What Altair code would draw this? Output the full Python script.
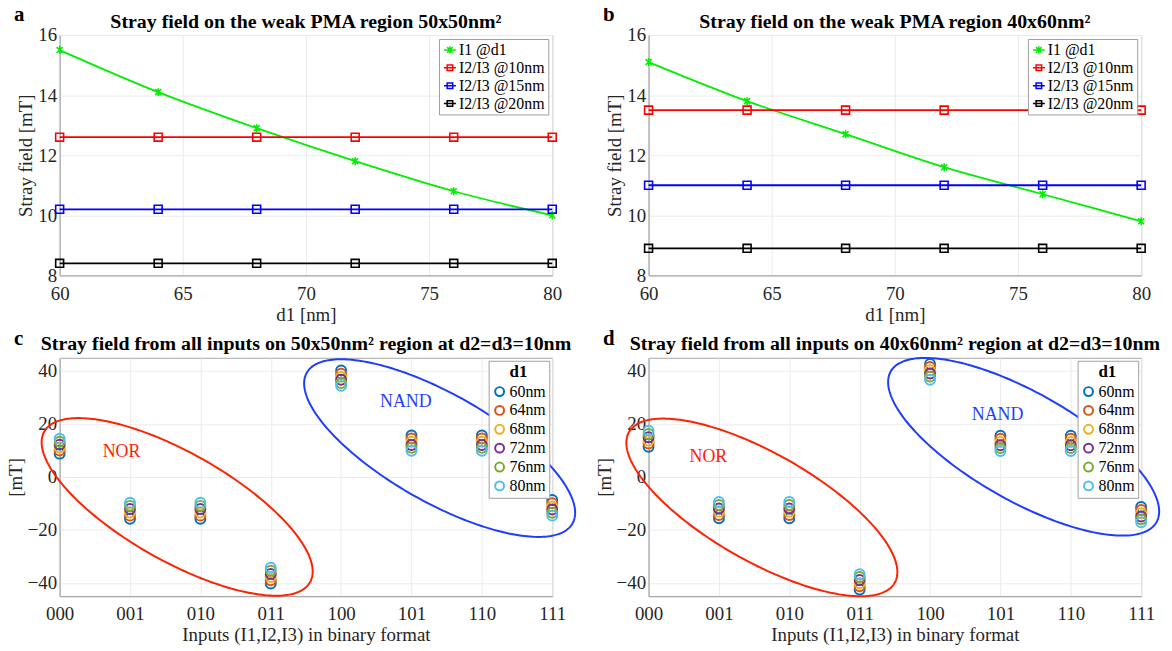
import numpy as np
import pandas as pd
import altair as alt

FONT = "Liberation Serif"

# ---------------- data ----------------
d1_values = [60, 64, 68, 72, 76, 80]
series_names = ["I1 @d1", "I2/I3 @10nm", "I2/I3 @15nm", "I2/I3 @20nm"]
series_colors = ["#00ee00", "#ff0000", "#0000ff", "#000000"]

# panel a (50x50nm2)
a_I1 = [15.5, 14.1, 12.9, 11.8, 10.8, 10.0]
a_10 = [12.6, 12.6, 12.6, 12.6, 12.6, 12.6]
a_15 = [10.2, 10.2, 10.2, 10.2, 10.2, 10.2]
a_20 = [8.4, 8.4, 8.4, 8.4, 8.4, 8.4]
# panel b (40x60nm2)
b_I1 = [15.1, 13.8, 12.7, 11.6, 10.7, 9.8]
b_10 = [13.5, 13.5, 13.5, 13.5, 13.5, 13.5]
b_15 = [11.0, 11.0, 11.0, 11.0, 11.0, 11.0]
b_20 = [8.9, 8.9, 8.9, 8.9, 8.9, 8.9]

inputs = ["000", "001", "010", "011", "100", "101", "110", "111"]
d1_labels = ["60nm", "64nm", "68nm", "72nm", "76nm", "80nm"]
d1_colors = ["#0072BD", "#D95319", "#EDB120", "#7E2F8E", "#77AC30", "#4DBEEE"]

# panel c (50x50nm2), one list per d1
c_60 = [8.8, -15.8, -15.8, -40.2, 40.2, 15.7, 15.7, -8.7]
c_64 = [10.0, -14.6, -14.6, -39.0, 39.0, 14.5, 14.5, -9.9]
c_68 = [11.1, -13.4, -13.4, -37.8, 37.8, 13.3, 13.3, -11.1]
c_72 = [12.2, -12.1, -12.1, -36.6, 36.7, 12.1, 12.1, -12.3]
c_76 = [13.3, -10.9, -10.9, -35.4, 35.5, 11.0, 11.0, -13.5]
c_80 = [14.4, -9.7, -9.7, -34.3, 34.4, 9.9, 9.9, -14.6]
# panel d (40x60nm2)
d_60 = [11.4, -15.6, -15.6, -42.5, 42.7, 15.6, 15.6, -11.3]
d_64 = [12.6, -14.4, -14.4, -41.3, 41.5, 14.4, 14.4, -12.5]
d_68 = [13.8, -13.1, -13.1, -40.1, 40.3, 13.2, 13.2, -13.7]
d_72 = [15.0, -11.9, -11.9, -38.9, 39.1, 12.0, 12.0, -14.9]
d_76 = [16.2, -10.6, -10.6, -37.8, 37.9, 10.9, 10.9, -16.0]
d_80 = [17.5, -9.4, -9.4, -36.7, 36.7, 9.8, 9.8, -17.1]

titles = [
    "Stray field on the weak PMA region 50x50nm\u00b2",
    "Stray field on the weak PMA region 40x60nm\u00b2",
    "Stray field from all inputs on 50x50nm\u00b2 region at d2=d3=10nm",
    "Stray field from all inputs on 40x60nm\u00b2 region at d2=d3=10nm",
]
panel_letters = ["a", "b", "c", "d"]

gate_names = ["NOR", "NAND"]
gate_colors = ["#ff2200", "#1f3dff"]
# ellipse annotations (data units): centres, semi-axis vectors
ell_u = (1.87, -29.2)
ell_v = (-0.46, -16.5)
c_centres = [(1.67, -11.3), (5.40, 10.9)]
d_centres = [(1.61, -11.5), (5.33, 11.4)]
c_text_pos = [(0.88, 9.4), (4.92, 28.4)]
d_text_pos = [(0.85, 7.7), (4.96, 23.2)]

# ---------------- styling helpers ----------------
STAR = "M-0.75,-0.75L0.75,0.75M-0.75,0.75L0.75,-0.75M0,-1L0,1"
LEG_STAR = "M-1.5,0L1.5,0M-0.7,-0.7L0.7,0.7M-0.7,0.7L0.7,-0.7M0,-0.9L0,0.9"
LEG_SQUARE = "M-1.5,0L1.5,0M-0.7,-0.7L0.7,-0.7L0.7,0.7L-0.7,0.7Z"

W = 496
FS = 19
TFS = 20


def heading_layers(letter, title, title_y, letter_y):
    df = pd.DataFrame({"t": [letter], "title": [title]})
    let = alt.Chart(df).mark_text(
        font=FONT, fontSize=21, fontWeight="bold", align="left", baseline="alphabetic", color="black"
    ).encode(text="t:N", x=alt.value(-46), y=alt.value(letter_y))
    tit = alt.Chart(df).mark_text(
        font=FONT, fontSize=TFS, fontWeight="bold", align="center", baseline="alphabetic", color="black"
    ).encode(text="title:N", x=alt.value(W / 2), y=alt.value(title_y))
    return [let, tit]


def axis(**kw):
    return alt.Axis(labelFont=FONT, titleFont=FONT, labelFontSize=FS, titleFontSize=FS, **kw)


def top_panel(title, letter, i1, s10, s15, s20):
    rows = []
    for name, col, vals in zip(series_names, series_colors, [i1, s10, s15, s20]):
        for x, v in zip(d1_values, vals):
            rows.append({"d1": x, "value": v, "series": name, "col": col})
    df = pd.DataFrame(rows)
    xenc = alt.X("d1:Q", scale=alt.Scale(domain=[60, 80], nice=False, zero=False),
                 axis=axis(values=[60, 65, 70, 75, 80], title="d1 [nm]"))
    yenc = alt.Y("value:Q", scale=alt.Scale(domain=[8, 16], nice=False, zero=False),
                 axis=axis(values=[8, 10, 12, 14, 16], title="Stray field [mT]"))
    base = alt.Chart(df)
    direct = alt.Color("col:N", scale=None)
    lines = base.mark_line(strokeWidth=1.8, interpolate="monotone").encode(
        x=xenc, y=yenc, color=direct, detail="series:N")
    stars = base.transform_filter(alt.datum.series == series_names[0]).mark_point(
        shape=STAR, size=64, strokeWidth=1.6, filled=False, opacity=1).encode(
        x=xenc, y=yenc, color=direct)
    squares = base.transform_filter(alt.datum.series != series_names[0]).mark_point(
        shape="square", size=64, strokeWidth=1.6, filled=False, opacity=1).encode(
        x=xenc, y=yenc, color=direct)
    leg = alt.Legend(title=None, orient="top-right", offset=4, fillColor="white",
                     strokeColor="#a0a0a0", padding=3, labelFontSize=16, labelFont=FONT,
                     symbolSize=64, symbolStrokeWidth=1.5, rowPadding=2, labelOffset=1)
    legend_layer = base.transform_filter("false").mark_point(
        filled=False, size=64, strokeWidth=1.5, opacity=1).encode(
        x=xenc, y=yenc,
        color=alt.Color("series:N", scale=alt.Scale(domain=series_names, range=series_colors), legend=leg),
        shape=alt.Shape("series:N", scale=alt.Scale(domain=series_names,
                        range=[LEG_STAR, LEG_SQUARE, LEG_SQUARE, LEG_SQUARE]), legend=leg))
    return alt.layer(lines, stars, squares, legend_layer,
                     *heading_layers(letter, title, -7, -14)).properties(width=W, height=242)


def ellipse_df(centre, n=241):
    t = np.linspace(0, 2 * np.pi, n)
    return pd.DataFrame({
        "x": centre[0] + ell_u[0] * np.cos(t) + ell_v[0] * np.sin(t),
        "y": centre[1] + ell_u[1] * np.cos(t) + ell_v[1] * np.sin(t),
        "k": np.arange(n),
    })


def bottom_panel(title, letter, series, centres, text_pos):
    rows = []
    for j, (lab, vals) in enumerate(zip(d1_labels, series)):
        for i, v in enumerate(vals):
            rows.append({"idx": i, "value": v, "d1": lab, "ord": j})
    df = pd.DataFrame(rows)
    label_expr = "[" + ",".join("'%s'" % s for s in inputs) + "][datum.value]"
    xscale = alt.Scale(domain=[0, 7], nice=False, zero=False)
    yscale = alt.Scale(domain=[-45, 45], nice=False, zero=False)
    xenc = alt.X("idx:Q", scale=xscale,
                 axis=axis(values=list(range(len(inputs))), labelExpr=label_expr,
                           title="Inputs (I1,I2,I3) in binary format"))
    yenc = alt.Y("value:Q", scale=yscale,
                 axis=axis(values=[-40, -20, 0, 20, 40], title="[mT]"))
    leg = alt.Legend(title="d1", orient="top-right", offset=3, fillColor="white",
                     strokeColor="#a0a0a0", padding=3, labelFontSize=16, labelFont=FONT,
                     symbolSize=80, symbolStrokeWidth=2, rowPadding=1, labelOffset=2,
                     symbolType="circle", titleFont=FONT, titleFontSize=17,
                     titleFontWeight="bold", titleAnchor="middle", titleColor="black",
                     titlePadding=3)
    pts = alt.Chart(df).mark_point(shape="circle", size=100, strokeWidth=2, filled=False, opacity=1).encode(
        x=xenc, y=yenc,
        color=alt.Color("d1:N", scale=alt.Scale(domain=d1_labels, range=d1_colors), legend=leg),
        order=alt.Order("ord:Q"),
    )
    layers = [pts]
    for centre, col in zip(centres, gate_colors):
        e = alt.Chart(ellipse_df(centre)).mark_line(color=col, strokeWidth=2, clip=False).encode(
            x=alt.X("x:Q", scale=xscale), y=alt.Y("y:Q", scale=yscale), order="k:Q")
        layers.append(e)
    tdf = pd.DataFrame({"x": [p[0] for p in text_pos], "y": [p[1] for p in text_pos],
                        "name": gate_names, "col": gate_colors})
    txt = alt.Chart(tdf).mark_text(font=FONT, fontSize=18).encode(
        x=alt.X("x:Q", scale=xscale), y=alt.Y("y:Q", scale=yscale), text="name:N",
        color=alt.Color("col:N", scale=None))
    layers.append(txt)
    layers.extend(heading_layers(letter, title, -8, -13))
    return alt.layer(*layers).properties(width=W, height=240)


pa = top_panel(titles[0], panel_letters[0], a_I1, a_10, a_15, a_20)
pb = top_panel(titles[1], panel_letters[1], b_I1, b_10, b_15, b_20)
pc = bottom_panel(titles[2], panel_letters[2], [c_60, c_64, c_68, c_72, c_76, c_80], c_centres, c_text_pos)
pdn = bottom_panel(titles[3], panel_letters[3], [d_60, d_64, d_68, d_72, d_76, d_80], d_centres, d_text_pos)

chart = alt.concat(pa, pb, pc, pdn, columns=2, spacing={"row": 83, "column": 97}, bounds="flush").resolve_scale(
    color="independent", shape="independent"
).properties(
    padding={"left": -3, "top": -7, "right": 0, "bottom": 0}
).configure(font=FONT).configure_view(stroke="#a6a6a6", strokeWidth=1).configure_axis(
    labelFont=FONT, titleFont=FONT, labelFontSize=FS, titleFontSize=FS,
    labelColor="#262626", titleColor="#262626", titleFontWeight="normal",
    domainColor="#a6a6a6", gridColor="#ebebeb", grid=True, ticks=False,
    labelFlush=False, labelPadding=9, titlePadding=2,
).configure_axisY(labelPadding=3).configure_legend(labelFont=FONT, titleFont=FONT, labelColor="black")

chart.save("out.html", embed_options={"renderer": "svg", "actions": False})
